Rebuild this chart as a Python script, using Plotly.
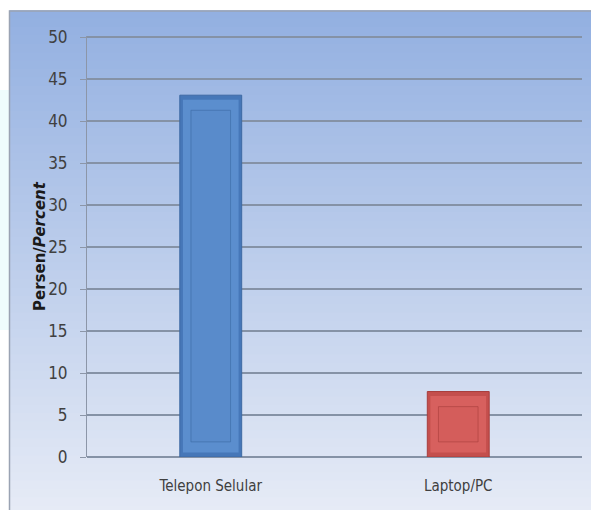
import plotly.graph_objects as go

# Survey result: device used, percentage of respondents
categories = ["Telepon Selular", "Laptop/PC"]
values = [43.1, 7.8]
edge_colors = ["#4677b8", "#c44f4d"]
face_colors = ["#5b8ece", "#d7605e"]
inner_colors = ["#598bcb", "#d45d5b"]
line_colors = ["#3d69a3", "#a83e3c"]
y_ticks = [0, 5, 10, 15, 20, 25, 30, 35, 40, 45, 50]
y_title = "<b>Persen/<i>Percent</i></b>"

W, H = 591, 510
L, R, T, B = 87, 9, 36, 53
plot_w = W - L - R
plot_h = H - T - B

BEVEL = 1.8  # bevel depth in axis units

fig = go.Figure()

# outer body of each bar (bevelled edge)
fig.add_trace(go.Bar(
    x=categories, y=values, width=0.25,
    marker=dict(color=edge_colors, line=dict(color=line_colors, width=1)),
    hoverinfo="skip", showlegend=False,
))
# lighter bevel band
fig.add_trace(go.Bar(
    x=categories, y=[v - BEVEL * 0.6 for v in values], base=[BEVEL * 0.3] * len(values),
    width=0.225,
    marker=dict(color=face_colors, line=dict(width=0)),
    hoverinfo="skip", showlegend=False,
))
# flat inner face
fig.add_trace(go.Bar(
    x=categories, y=[v - 2 * BEVEL for v in values], base=[BEVEL] * len(values),
    width=0.16,
    marker=dict(color=inner_colors, line=dict(color=line_colors, width=0.6)),
    hoverinfo="skip", showlegend=False,
))

# vertical gradient background inside the chart frame
top_rgb = (0x93, 0xB0, 0xE1)
bot_rgb = (0xE6, 0xEB, 0xF6)
frame_x0 = (9.5 - L) / plot_w
frame_x1 = (W + 5 - L) / plot_w
frame_top = (H - 11 - B) / plot_h
frame_bot = (-5 - B) / plot_h
shapes = []
n = 60
for i in range(n):
    t = i / (n - 1)
    c = tuple(round(top_rgb[k] + (bot_rgb[k] - top_rgb[k]) * t) for k in range(3))
    y1 = frame_top + (frame_bot - frame_top) * i / n
    y0 = frame_top + (frame_bot - frame_top) * (i + 1) / n
    shapes.append(dict(type="rect", xref="paper", yref="paper",
                       x0=frame_x0, x1=frame_x1, y0=y0, y1=y1 + 0.002,
                       fillcolor="rgb(%d,%d,%d)" % c, line=dict(width=0), layer="below"))
# faint cyan glow left of the frame
shapes.append(dict(type="rect", xref="paper", yref="paper",
                   x0=(0 - L) / plot_w, x1=frame_x0, y0=(H - 330 - B) / plot_h, y1=(H - 90 - B) / plot_h,
                   fillcolor="rgba(210,250,250,0.35)", line=dict(width=0), layer="below"))
# frame border
shapes.append(dict(type="rect", xref="paper", yref="paper",
                   x0=frame_x0, x1=frame_x1, y0=frame_bot, y1=frame_top,
                   fillcolor="rgba(0,0,0,0)", line=dict(color="#9aa3b3", width=1.5), layer="below"))

label_font = dict(family="DejaVu Sans Condensed, Liberation Sans Narrow, Open Sans, sans-serif",
                  color="#404040")

fig.update_layout(
    width=W, height=H,
    margin=dict(l=L, r=R, t=T, b=B),
    paper_bgcolor="white",
    plot_bgcolor="rgba(0,0,0,0)",
    barmode="overlay",
    bargap=0.75,
    shapes=shapes,
    font=label_font,
    annotations=[dict(
        text=y_title, textangle=-90, showarrow=False,
        xref="paper", yref="paper", x=(40 - L) / plot_w, y=(H - B - 246) / plot_h,
        xanchor="center", yanchor="middle",
        font=dict(size=15, color="#1a1a1a", family="DejaVu Sans, sans-serif"),
    )],
)
fig.update_xaxes(
    showgrid=False, showline=False, zeroline=False,
    tickfont=dict(size=15, **label_font),
    ticklabelstandoff=18,
)
fig.update_yaxes(
    range=[0, 50.15], tickvals=y_ticks,
    showgrid=True, gridcolor="#8592a6", gridwidth=1.5,
    zeroline=True, zerolinecolor="#8592a6", zerolinewidth=1.5,
    showline=True, linecolor="#8c96a8", linewidth=1,
    ticks="outside", ticklen=6, tickcolor="#8c96a8",
    tickfont=dict(size=17, **label_font),
    ticklabelstandoff=9,
)

fig.write_html("out.html")
